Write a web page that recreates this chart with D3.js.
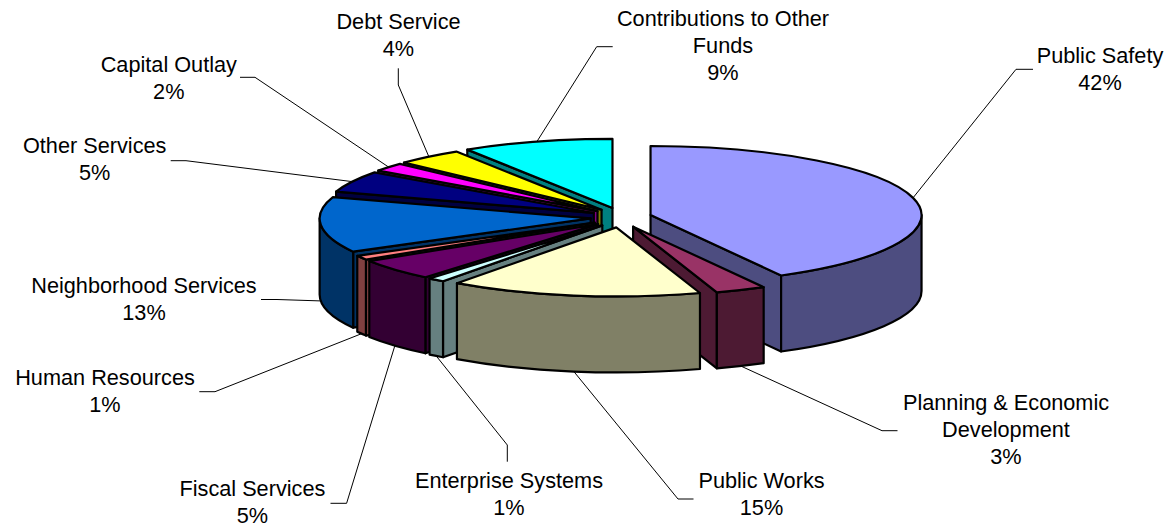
<!DOCTYPE html>
<html>
<head>
<meta charset="utf-8">
<script src="https://cdn.jsdelivr.net/npm/d3@7"></script>
<style>
  body { margin: 0; background: #ffffff; }
  svg { display: block; }
</style>
</head>
<body>
<svg id="chart" width="1169" height="527"></svg>
<script>
// Budget shares by department (percent of total)
const categories = [
  "Public Safety",
  "Planning & Economic Development",
  "Public Works",
  "Enterprise Systems",
  "Fiscal Services",
  "Human Resources",
  "Neighborhood Services",
  "Other Services",
  "Capital Outlay",
  "Debt Service",
  "Contributions to Other Funds"
];
const shares = [42, 3, 15, 1, 5, 1, 13, 5, 2, 4, 9];
const sliceColors = [
  "#9999FF", "#993366", "#FFFFCC", "#CCFFFF", "#660066", "#FF8080",
  "#0066CC", "#000080", "#FF00FF", "#FFFF00", "#00FFFF"
];

// Label placement: text centre, first baseline, leader stub start and elbow
const labelLayout = [
  { x: 1100, y: 62.7,  stub: [1033, 69.3],  elbow: [1016, 69.3] },
  { x: 1006, y: 410,   stub: [897.5, 430.7], elbow: [882, 430.7] },
  { x: 761.5, y: 488.3, stub: [693.5, 499],  elbow: [678, 499] },
  { x: 509,  y: 488.3, stub: [507.3, 461.7], elbow: [507.3, 445] },
  { x: 252.4, y: 495.5, stub: [330.5, 503.3], elbow: [346.6, 503.3] },
  { x: 105,  y: 385,   stub: [199.3, 391.7], elbow: [215, 391.7] },
  { x: 144,  y: 292.7, stub: [261, 299.5],  elbow: [277, 299.5] },
  { x: 94.7, y: 153.3, stub: [170.7, 160.7], elbow: [186, 160.7] },
  { x: 168.8, y: 71.7, stub: [240, 77.3],   elbow: [255, 77.3] },
  { x: 398.5, y: 29.3, stub: [398.3, 68.3], elbow: [398.3, 85] },
  { x: 723,  y: 26,    stub: [612.7, 46.7], elbow: [596.7, 46.7] }
];

// 3-D pie geometry
const cx = 621, cy = 217.5;     // shared centre of the top face
const rx = 271, ry = 69;        // ellipse radii of the top face
const depth = 76;               // thickness of the pie
const pullX = 30.5, pullY = 10; // explode offset of every slice
const fontSize = 21.7, lineGap = 27, wrapWidth = 245;

const svg = d3.select("#chart");
const pie = d3.pie().sort(null).value(d => d.value)
  .startAngle(0).endAngle(2 * Math.PI);

const rows = categories.map((name, i) => ({
  name, value: shares[i], color: sliceColors[i], layout: labelLayout[i]
}));
const arcs = pie(rows);

function half(c) {
  const r = d3.rgb(c);
  return d3.rgb(r.r / 2, r.g / 2, r.b / 2).formatHex();
}
function onRim(c, t) {
  return [c[0] + rx * Math.sin(t), c[1] - ry * Math.cos(t)];
}
function down(p) { return [p[0], p[1] + depth]; }
function fmt(p) { return p[0].toFixed(2) + "," + p[1].toFixed(2); }

arcs.forEach(a => {
  a.mid = (a.startAngle + a.endAngle) / 2;
  a.center = [cx + pullX * Math.sin(a.mid), cy - pullY * Math.cos(a.mid)];
});

function topPath(a) {
  const c = a.center, p0 = onRim(c, a.startAngle), p1 = onRim(c, a.endAngle);
  const large = (a.endAngle - a.startAngle) > Math.PI ? 1 : 0;
  return `M${fmt(c)}L${fmt(p0)}A${rx},${ry} 0 ${large} 1 ${fmt(p1)}Z`;
}
function wallPath(a) {
  const s = Math.max(a.startAngle, Math.PI / 2);
  const e = Math.min(a.endAngle, 3 * Math.PI / 2);
  if (e <= s) return null;
  const c = a.center, p0 = onRim(c, s), p1 = onRim(c, e);
  return `M${fmt(p0)}A${rx},${ry} 0 0 1 ${fmt(p1)}L${fmt(down(p1))}` +
         `A${rx},${ry} 0 0 0 ${fmt(down(p0))}Z`;
}
function facePath(a, t) {
  const c = a.center, p = onRim(c, t);
  return `M${fmt(c)}L${fmt(p)}L${fmt(down(p))}L${fmt(down(c))}Z`;
}

// paint from the back of the pie towards the front
const order = arcs.slice().sort((a, b) => Math.cos(b.mid) - Math.cos(a.mid));
const gPie = svg.append("g")
  .attr("stroke", "#000").attr("stroke-width", 2.2)
  .attr("stroke-linejoin", "round");

order.forEach(a => {
  const g = gPie.append("g");
  const top = a.data.color;
  const side = half(top);
  if (Math.sin(a.startAngle) < -1e-6) {
    g.append("path").attr("d", facePath(a, a.startAngle)).attr("fill", side);
  }
  if (Math.sin(a.endAngle) > 1e-6) {
    g.append("path").attr("d", facePath(a, a.endAngle)).attr("fill", side);
  }
  const w = wallPath(a);
  if (w) g.append("path").attr("d", w).attr("fill", side);
  g.append("path").attr("d", topPath(a)).attr("fill", top);
});

// leader lines: back slices point at the top rim, front slices at the base
const gLead = svg.append("g").attr("fill", "none")
  .attr("stroke", "#000").attr("stroke-width", 1);
arcs.forEach(a => {
  let p = onRim(a.center, a.mid);
  if (Math.cos(a.mid) < 0) p = down(p);
  const L = a.data.layout;
  gLead.append("polyline")
    .attr("points", [L.stub, L.elbow, p].map(fmt).join(" "));
});

// labels: wrapped category name plus percentage
const gText = svg.append("g")
  .attr("font-family", "'Liberation Sans', Arial, sans-serif")
  .attr("font-size", fontSize).attr("fill", "#000")
  .attr("text-anchor", "middle");

arcs.forEach(a => {
  const L = a.data.layout;
  const text = gText.append("text");
  const words = a.data.name.split(" ");
  const lines = [];
  let current = [];
  const probe = text.append("tspan");
  words.forEach(wd => {
    const trial = current.concat(wd).join(" ");
    probe.text(trial);
    if (current.length && probe.node().getComputedTextLength() > wrapWidth) {
      lines.push(current.join(" "));
      current = [wd];
    } else {
      current.push(wd);
    }
  });
  lines.push(current.join(" "));
  probe.remove();
  lines.push(d3.format(".0f")(a.data.value) + "%");
  lines.forEach((ln, k) => {
    text.append("tspan").attr("x", L.x).attr("y", L.y + k * lineGap).text(ln);
  });
});
</script>
</body>
</html>
